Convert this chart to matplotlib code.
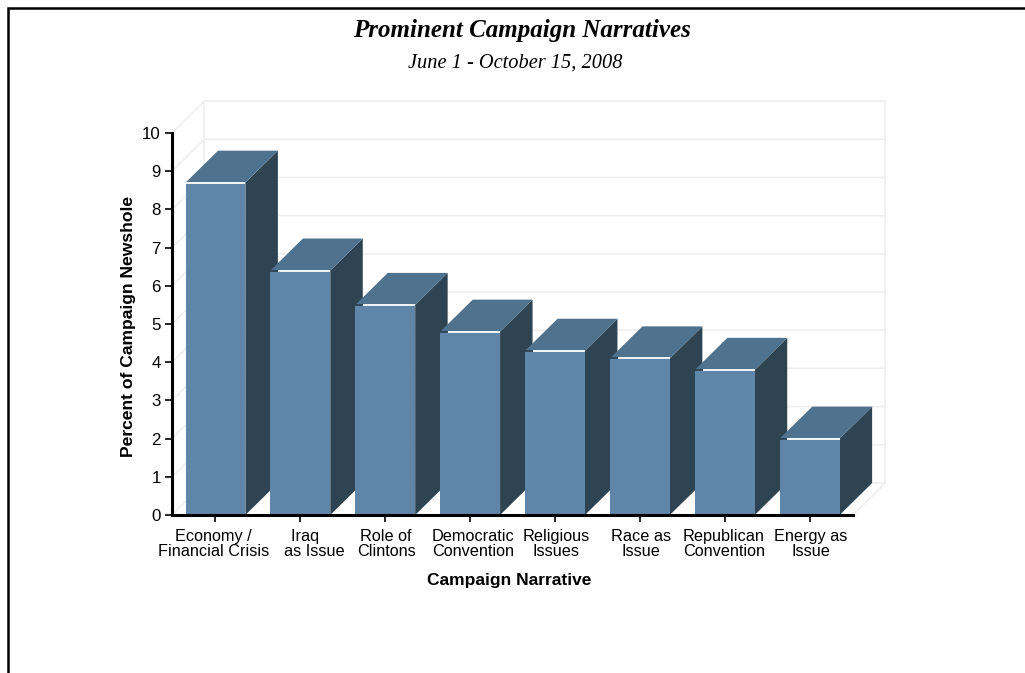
import matplotlib
matplotlib.use('Agg')
import matplotlib.pyplot as plt
from matplotlib.lines import Line2D

categories = ['Economy /\nFinancial Crisis', 'Iraq    \nas Issue', 'Role of\nClintons',
              'Democratic\nConvention', 'Religious\nIssues', 'Race as\nIssue',
              'Republican\nConvention', 'Energy as\nIssue']
values = [8.7, 6.4, 5.5, 4.8, 4.3, 4.1, 3.8, 2.0]
label_nudge = [-2, 14, 1, 3, 1, 1, -1, 1]  # px, relative to the tick

W, H = 1025, 673
plt.rcParams['font.family'] = 'Liberation Sans'

fig = plt.figure(figsize=(W / 100, H / 100), dpi=100)
ax = fig.add_axes([172 / W, 1 - 515 / H, (853 - 172) / W, (515 - 133) / H])
ax.set_xlim(-0.512, 7.51)
ax.set_ylim(0, 10)
ax.patch.set_alpha(0)

# depth of the fake 3d box, in data units
dx = 32.5 / 84.9
dy = 32 / 38.2
bar_w = 0.705
x0, x1 = ax.get_xlim()
grid_c = '#eeeeee'

for v in range(1, 11):
    ax.plot([x0, x0 + dx, x1 + dx], [v, v + dy, v + dy], color=grid_c, lw=1.1,
            clip_on=False, zorder=1)
ax.plot([x0 + dx, x0 + dx], [dy, 10 + dy], color=grid_c, lw=1.1, clip_on=False, zorder=1)
ax.plot([x1 + dx, x1 + dx], [dy, 10 + dy], color=grid_c, lw=1.1, clip_on=False, zorder=1)
ax.plot([x0, x0 + dx, x1 + dx, x1], [0, dy, dy, 0], color=grid_c, lw=1.1,
        clip_on=False, zorder=1)

for i, val in enumerate(values):
    l, r = i - bar_w / 2, i + bar_w / 2
    z = 3 + i * 0.1
    # side, top and front faces
    ax.fill([r, r + dx, r + dx, r], [0, dy, val + dy, val], color='#2f4453', lw=0,
            clip_on=False, zorder=z)
    ax.fill([l, l + dx, r + dx, r], [val, val + dy, val + dy, val], color='#4f728e', lw=0,
            clip_on=False, zorder=z)
    ax.fill([l, r, r, l], [0, 0, val, val], color='#5f86a8', lw=0, clip_on=False, zorder=z)
    # highlight along the top of the front face
    start = l if i == 0 else l + 0.09
    if i > 0:
        ax.plot([l, start], [val, val], color='#2f4453', lw=1.3, clip_on=False, zorder=z,
                solid_capstyle='butt')
    ax.plot([start, r], [val, val], color='white', lw=1.3, clip_on=False, zorder=z,
            solid_capstyle='butt')

for side in ['top', 'right']:
    ax.spines[side].set_visible(False)
ax.spines['left'].set_linewidth(2.2)
ax.spines['bottom'].set_linewidth(2.2)
ax.spines['left'].set_zorder(6)
ax.spines['bottom'].set_zorder(6)

ax.set_yticks(range(0, 11))
ax.tick_params(axis='y', labelsize=12.2, length=5, width=1.2, pad=3)
ax.set_xticks(range(len(categories)))
ax.set_xticklabels([])
ax.tick_params(axis='x', length=5, width=1.2)

for i, lab in enumerate(categories):
    ax.annotate(lab, xy=(i, 0), xycoords='data', xytext=(label_nudge[i] * 0.72, -10),
                textcoords='offset points', ha='center', va='top', fontsize=11.7,
                linespacing=1.03, annotation_clip=False)

fig.text(509 / W, 1 - 581 / H, 'Campaign Narrative', ha='center', va='center',
         fontsize=12.5, fontweight='bold')
fig.text(128.5 / W, 1 - 326 / H, 'Percent of Campaign Newshole', ha='center', va='center',
         rotation=90, fontsize=12.6, fontweight='bold')

fig.text(522 / W, 1 - 30 / H, 'Prominent Campaign Narratives', ha='center', va='center',
         family='Liberation Serif', style='italic', fontweight='bold', fontsize=18)
fig.text(515 / W, 1 - 63 / H, 'June 1 - October 15, 2008', ha='center', va='center',
         family='Liberation Serif', style='italic', fontsize=14.7)

# page frame: top and left rules only
fig.add_artist(Line2D([8 / W, 8 / W, 1], [0, 1 - 8 / H, 1 - 8 / H], color='black', lw=1.8,
                      transform=fig.transFigure, solid_joinstyle='miter'))

fig.savefig('out.png', dpi=100)
